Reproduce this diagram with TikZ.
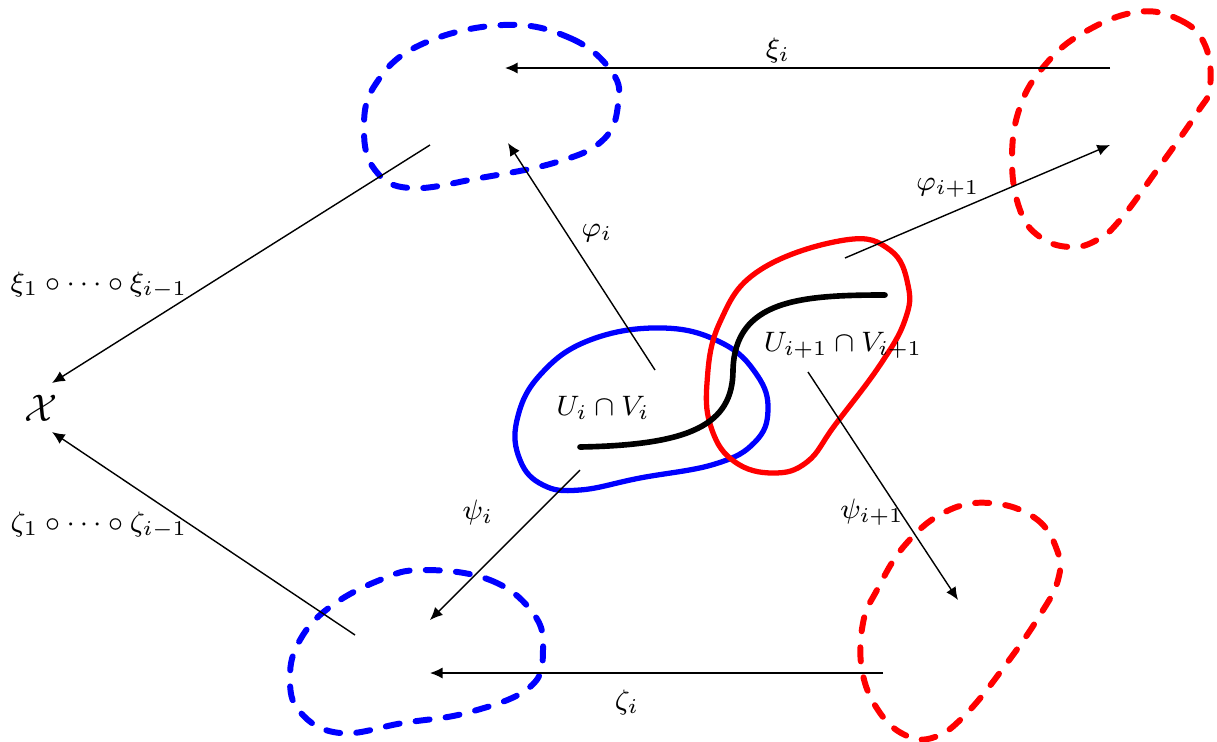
\documentclass[tikz,border=0pt]{standalone}
\usetikzlibrary{arrows.meta}
\begin{document}
\begin{tikzpicture}[x=0.01cm,y=-0.01cm,
  arr/.style={-{Latex[length=3.6pt,width=3.2pt]},line width=0.4pt},
  bl/.style={line width=1.5pt},
  blobdash/.style={line width=1.7pt,line cap=round,dash pattern=on 4pt off 4.6pt},
  lbl/.style={inner sep=1pt,font=\fontsize{8.5pt}{10pt}\selectfont}]
\useasboundingbox (0,0) rectangle (1217,742);
% blobs
\draw[blobdash,blue] plot[smooth cycle,tension=0.7] coordinates {(503,25) (570,38) (612,72) (618,105) (603,140) (557,162) (480,178) (410,188) (375,170) (364,130) (375,85) (420,45)};
\draw[blobdash,blue] plot[smooth cycle,tension=0.7] coordinates {(423,570) (490,580) (533,613) (543,650) (530,687) (470,712) (403,723) (340,733) (300,712) (290,677) (300,640) (330,607) (380,580)};
\draw[blobdash,red] plot[smooth cycle,tension=0.7] coordinates {(1137,12) (1180,20) (1205,45) (1210,87) (1197,113) (1157,170) (1120,220) (1097,240) (1070,247) (1040,237) (1020,210) (1012,160) (1020,107) (1045,65) (1083,33)};
\draw[blobdash,red] plot[smooth cycle,tension=0.7] coordinates {(990,503) (1035,518) (1057,550) (1058,580) (1040,615) (1007,663) (967,713) (935,737) (905,735) (878,710) (862,670) (863,623) (877,590) (905,545) (945,512)};
\draw[bl,blue] plot[smooth cycle,tension=0.7] coordinates {(663,328) (722,343) (757,375) (768,410) (755,442) (715,464) (640,478) (580,490) (543,485) (520,460) (517,420) (540,375) (590,340)};
\draw[bl,red] plot[smooth cycle,tension=0.7] coordinates {(845,240) (890,250) (908,285) (905,320) (880,365) (835,425) (807,462) (773,473) (735,462) (712,430) (707,383) (720,322) (760,270)};
\draw[line width=1.6pt,line cap=round] (580,447) .. controls (690,445) and (733,425) .. (733,370) .. controls (735,300) and (800,295) .. (885,295);
% labels
\node[lbl,font=\fontsize{10.5pt}{12pt}\selectfont] (X) at (41,408) {$\mathcal{X}$};
\node[lbl] (UV) at (603,408) {$U_i\cap V_i$};
\node[lbl] (UV1) at (843,345) {$U_{i+1}\cap V_{i+1}$};
\node[lbl] (lxi) at (778,50) {$\xi_i$};
\node[lbl] (lphi) at (597,233) {$\varphi_i$};
\node[lbl] (lphi1) at (948,188) {$\varphi_{i+1}$};
\node[lbl] (lpsi) at (478,512) {$\psi_i$};
\node[lbl] (lpsi1) at (872,512) {$\psi_{i+1}$};
\node[lbl] (lzeta) at (627,702) {$\zeta_i$};
\node[lbl] (lxic) at (99,285) {$\xi_1\circ\cdots\circ\xi_{i-1}$};
\node[lbl] (lzetac) at (99,525) {$\zeta_1\circ\cdots\circ\zeta_{i-1}$};
% arrow endpoints
\coordinate (xa) at (1110,68); \coordinate (xb) at (505,68);
\coordinate (pa) at (655,370); \coordinate (pb) at (508,143);
\coordinate (qa) at (845,258); \coordinate (qb) at (1110,145);
\coordinate (sa) at (580,470); \coordinate (sb) at (430,620);
\coordinate (ta) at (808,372); \coordinate (tb) at (958,600);
\coordinate (za) at (883,673); \coordinate (zb) at (430,673);
\coordinate (ca) at (430,145); \coordinate (cb) at (52,383);
\coordinate (da) at (355,635); \coordinate (db) at (52,432);
\draw[arr] (xa) -- (xb);
\draw[arr] (pa) -- (pb);
\draw[arr] (qa) -- (qb);
\draw[arr] (sa) -- (sb);
\draw[arr] (ta) -- (tb);
\draw[arr] (za) -- (zb);
\draw[arr] (ca) -- (cb);
\draw[arr] (da) -- (db);
\end{tikzpicture}
\end{document}
